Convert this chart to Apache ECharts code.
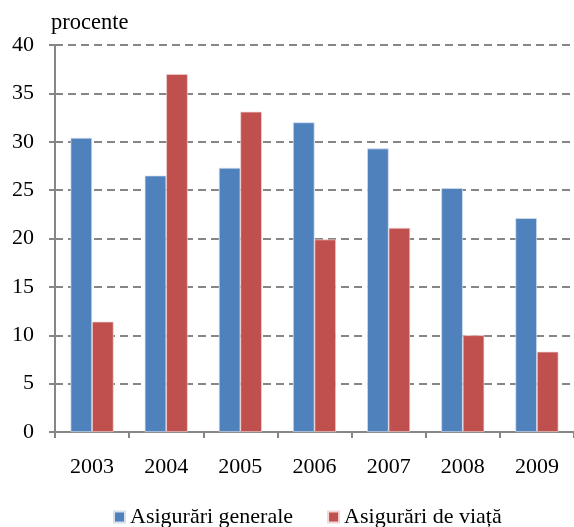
<!DOCTYPE html>
<html><head><meta charset="utf-8">
<script src="https://cdn.jsdelivr.net/npm/echarts@6/dist/echarts.min.js"></script>
<style>html,body{margin:0;padding:0;background:#fff}#c{width:574px;height:527px}</style>
</head><body><div id="c"></div>
<script>
const categories = ['2003','2004','2005','2006','2007','2008','2009'];
const generale = [30.4, 26.5, 27.3, 32.0, 29.3, 25.2, 22.1];
const viata = [11.4, 37.0, 33.1, 19.9, 21.1, 10.0, 8.3];
const seriesNames = ['Asigurări generale', 'Asigurări de viață'];
const yTicks = {min: 0, max: 40, interval: 5};

const font = 'Liberation Serif';
const chart = echarts.init(document.getElementById('c'), null, {renderer: 'canvas'});
chart.setOption({
  animation: false,
  textStyle: {fontFamily: font},
  grid: {left: 55, top: 45, width: 522, height: 387, containLabel: false},
  title: {text: 'procente', left: 51, top: 12, padding: 0, textStyle: {fontFamily: font, fontSize: 22.5, fontWeight: 'normal', color: '#000'}},
  legend: {
    top: 506, left: 113, padding: 0, itemGap: 34, itemWidth: 11, itemHeight: 11, icon: 'rect',
    textStyle: {fontFamily: font, fontSize: 22, color: '#000'},
    data: seriesNames
  },
  xAxis: {
    type: 'category', data: categories,
    axisLine: {lineStyle: {color: '#868686', width: 2}},
    axisTick: {show: true, length: 6, lineStyle: {color: '#868686', width: 2}},
    axisLabel: {fontFamily: font, fontSize: 22, color: '#000', margin: 24}
  },
  yAxis: {
    type: 'value', min: yTicks.min, max: yTicks.max, interval: yTicks.interval,
    axisLine: {show: true, lineStyle: {color: '#868686', width: 2}},
    axisTick: {show: true, length: 6, lineStyle: {color: '#868686', width: 2}},
    axisLabel: {fontFamily: font, fontSize: 22, color: '#000', margin: 21},
    splitLine: {lineStyle: {color: '#868686', width: 2, type: [8, 5]}}
  },
  series: [
    {name: seriesNames[0], type: 'bar', data: generale, barGap: '0%', barCategoryGap: '42%',
     itemStyle: {color: '#4F81BD', borderColor: '#d6e0ee', borderWidth: 0.7}},
    {name: seriesNames[1], type: 'bar', data: viata,
     itemStyle: {color: '#C0504D', borderColor: '#f0d6d5', borderWidth: 0.7}}
  ]
});
</script></body></html>
